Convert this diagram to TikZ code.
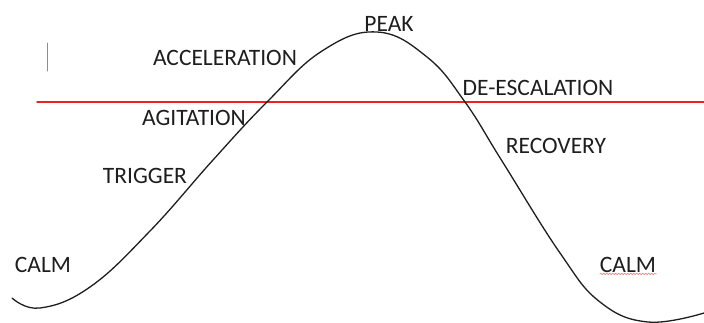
\documentclass[tikz,border=0pt]{standalone}
\usepackage{fontspec}
\setmainfont{Carlito}
\usepackage{xcolor}
\usepackage{tikz}
\usetikzlibrary{decorations.pathmorphing}
\definecolor{ink}{HTML}{1E1E1E}
\definecolor{limit}{HTML}{EE2020}
\definecolor{spell}{HTML}{F08080}
\definecolor{caret}{HTML}{8C8C8C}
\tikzset{
    every picture/.style={line cap=round,line join=round},
    phase/.style={anchor=base,inner sep=0pt,text=ink,
      font=\fontsize{23.5}{28}\selectfont},
    arousal/.style={draw=ink,line width=1.3pt},
    threshold/.style={draw=limit,line width=1.4pt},
    squiggle/.style={draw=spell,line width=0.6pt,
      decorate,decoration={snake,amplitude=0.8pt,segment length=3pt}}
}
\begin{document}
\begin{tikzpicture}[x=1pt,y=-1pt]
    \useasboundingbox (0,0) rectangle (704,322);
    % cursor mark and the line that splits the curve
    \draw[draw=caret,line width=1pt] (47,43) -- (47,71);
    \coordinate (tl) at (37,102);
    \coordinate (tr) at (704,102);
    \draw[threshold] (tl)--(tr);
    % the escalation curve
    \draw[arousal] plot[smooth,tension=0.7] coordinates {
      (12,298) (40,308) (90,287) (150,231) (213,160) (267,102)
      (322,51) (377,32) (427,57) (465,102) (502,161) (560,253)
      (600,302) (648,322) (704,313)};
    % stage names
    \node[phase] (calmA) at (43,272) {CALM};
    \node[phase] (trig) at (145,183) {TRIGGER};
    \node[phase] (agit) at (194,125) {AGITATION};
    \node[phase] (accel) at (225,65) {ACCELERATION};
    \node[phase] (peak) at (389,31) {PEAK};
    \node[phase] (desc) at (538,95) {DE-ESCALATION};
    \node[phase] (recov) at (556,153) {RECOVERY};
    \node[phase] (calmB) at (628,272) {CALM};
    \draw[squiggle] (calmB.south west) ++(0,1.5) -- ++(57,0);
\end{tikzpicture}
\end{document}
